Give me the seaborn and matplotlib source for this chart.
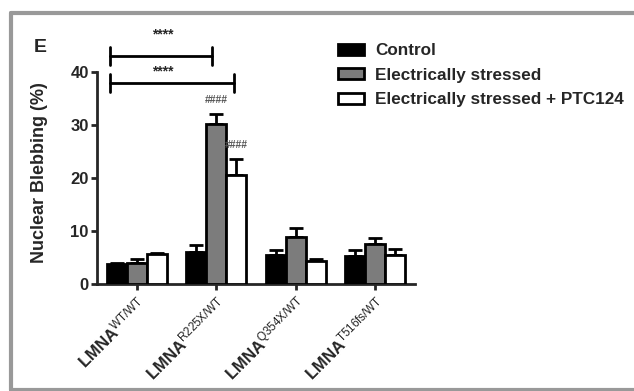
import matplotlib
matplotlib.use("Agg")
import matplotlib.pyplot as plt
import seaborn as sns
import pandas as pd
import numpy as np
from matplotlib.patches import Rectangle, Patch

genotypes = ["WT/WT", "R225X/WT", "Q354X/WT", "T516fs/WT"]
conditions = ["Control", "Electrically stressed", "Electrically stressed + PTC124"]
control_mean = [3.7, 6.0, 5.5, 5.2]
control_err = [0.3, 1.3, 1.0, 1.2]
stressed_mean = [3.9, 30.2, 8.8, 7.5]
stressed_err = [0.9, 1.8, 1.7, 1.2]
ptc_mean = [5.6, 20.6, 4.4, 5.5]
ptc_err = [0.3, 2.9, 0.3, 1.1]
colors = ["#000000", "#7c7c7c", "#ffffff"]

sns.set_style("ticks")
plt.rcParams["font.family"] = ["Liberation Sans", "DejaVu Sans"]
plt.rcParams["mathtext.fontset"] = "custom"
plt.rcParams["mathtext.rm"] = "Liberation Sans"
plt.rcParams["mathtext.bf"] = "Liberation Sans:bold"
plt.rcParams["mathtext.it"] = "Liberation Sans:italic"

rows = []
for c, means in zip(conditions, [control_mean, stressed_mean, ptc_mean]):
    for g, m in zip(genotypes, means):
        rows.append({"genotype": g, "condition": c, "value": m})
df = pd.DataFrame(rows)
errs = {conditions[0]: control_err, conditions[1]: stressed_err, conditions[2]: ptc_err}

fig = plt.figure(figsize=(6.34, 3.91), dpi=100)
ax = fig.add_axes([97 / 634, 1 - 284 / 391, (415 - 97) / 634, (284 - 40) / 391])

sns.barplot(data=df, x="genotype", y="value", hue="condition", order=genotypes,
            hue_order=conditions, palette=colors, width=0.75, edgecolor="black",
            linewidth=2, errorbar=None, legend=False, ax=ax, zorder=3)

bars = [p for p in ax.patches if isinstance(p, Rectangle) and p.get_width() > 0]
bars = bars[:12]
for i, c in enumerate(conditions):
    for j in range(len(genotypes)):
        p = bars[i * len(genotypes) + j]
        xc = p.get_x() + p.get_width() / 2
        h = p.get_height()
        e = errs[c][j]
        ax.errorbar([xc], [h], yerr=[[0], [e]], fmt="none", ecolor="black",
                    elinewidth=2, capsize=5, capthick=2, zorder=2)

ax.set_ylim(0, 46)
ax.set_xlim(-0.5, 3.5)
ax.spines["left"].set_bounds(0, 40)
ax.spines["right"].set_visible(False)
ax.spines["top"].set_visible(False)
for s in ["left", "bottom"]:
    ax.spines[s].set_linewidth(2)
ax.set_yticks([0, 10, 20, 30, 40])
ax.tick_params(axis="both", width=2, length=4, labelsize=12, direction="out", pad=2)
for t in ax.get_yticklabels():
    t.set_fontweight("bold")
ax.set_ylabel("Nuclear Blebbing (%)", fontsize=13, fontweight="bold")
ax.yaxis.set_label_coords(-0.155, 20 / 46 + 0.02)
ax.set_xlabel("")
ax.set_xticks(range(len(genotypes)))
ax.set_xticklabels([r"$\mathbf{LMNA}^{\mathrm{" + g + "}}$" for g in genotypes],
                   rotation=45, ha="right", va="top", rotation_mode="anchor", fontsize=12)
ax.tick_params(axis="x", pad=3)

for y, x0, x1, dy in [(42.9, -0.34, 0.95, 4.1), (37.9, -0.34, 1.22, 2.1)]:
    ax.plot([x0, x1], [y, y], color="black", lw=2, clip_on=False)
    for xx in (x0, x1):
        ax.plot([xx, xx], [y - 1.7, y + 1.7], color="black", lw=2, clip_on=False)
    ax.text((x0 + 0.95) / 2 + 0.02, y + dy, "****", ha="center", va="center",
            fontsize=10, fontweight="bold", clip_on=False)

ax.text(1.0, 34.7, "####", ha="center", va="center", fontsize=7.5, color="#555555",
        fontweight="bold")
ax.text(1.25, 26.2, "####", ha="center", va="center", fontsize=7.5, color="#555555",
        fontweight="bold")

handles = [Patch(facecolor=col, edgecolor="black", linewidth=2) for col in colors]
fig.legend(handles, conditions, loc="upper left", bbox_to_anchor=(323 / 634, 1 - 28 / 391),
           frameon=False, prop={"weight": "bold", "size": 12.3}, handlelength=1.5,
           handleheight=0.6, labelspacing=0.55, handletextpad=0.65)

fig.text(40 / 634, 1 - 47 / 391, "E", fontsize=14, fontweight="bold", ha="center", va="center")

fig.add_artist(plt.Line2D([11 / 634, 11 / 634], [1 - 13 / 391, 1 - 390 / 391],
                          color="#999999", lw=3, transform=fig.transFigure))
fig.add_artist(plt.Line2D([11 / 634, 1], [1 - 13 / 391, 1 - 13 / 391],
                          color="#999999", lw=3, transform=fig.transFigure))
fig.add_artist(plt.Line2D([11 / 634, 1], [1 - 390 / 391, 1 - 390 / 391],
                          color="#999999", lw=3, transform=fig.transFigure))

fig.savefig("out.png", dpi=100)
